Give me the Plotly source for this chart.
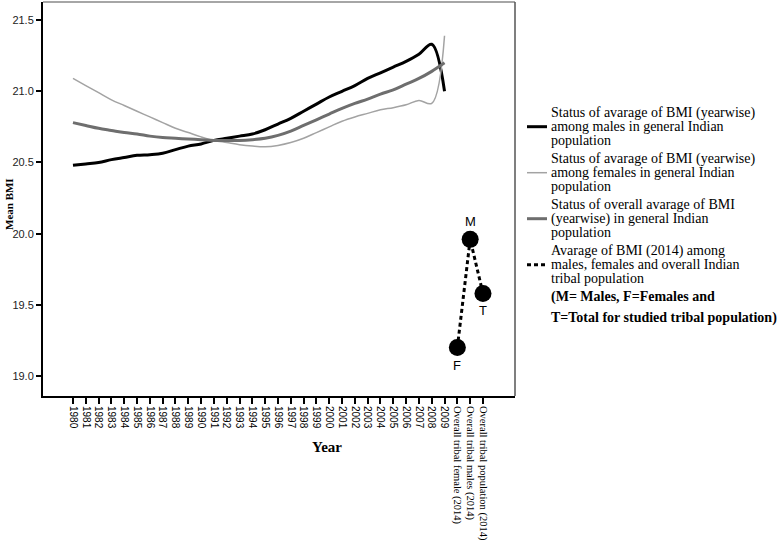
import plotly.graph_objects as go

years = [str(y) for y in range(1980, 2010)]
tribal_cats = ["Overall tribal female (2014)", "Overall tribal males (2014)", "Overall tribal population (2014)"]

male_bmi = [20.48, 20.49, 20.50, 20.52, 20.535, 20.55, 20.555, 20.565, 20.59, 20.615,
            20.63, 20.655, 20.67, 20.685, 20.70, 20.73, 20.77, 20.81, 20.86, 20.91,
            20.96, 21.00, 21.04, 21.09, 21.13, 21.17, 21.21, 21.26, 21.33, 21.00]
female_bmi = [21.09, 21.04, 20.99, 20.94, 20.90, 20.86, 20.82, 20.78, 20.74, 20.71,
              20.68, 20.655, 20.64, 20.625, 20.615, 20.61, 20.62, 20.64, 20.67, 20.71,
              20.75, 20.79, 20.82, 20.845, 20.87, 20.885, 20.905, 20.935, 20.915, 21.39]
overall_bmi = [20.78, 20.76, 20.74, 20.725, 20.71, 20.70, 20.685, 20.675, 20.67, 20.665,
               20.66, 20.655, 20.655, 20.655, 20.66, 20.67, 20.69, 20.72, 20.76, 20.80,
               20.84, 20.88, 20.915, 20.945, 20.98, 21.01, 21.05, 21.09, 21.14, 21.20]
tribal_labels = ["F", "M", "T"]
tribal_bmi = [19.20, 19.96, 19.58]

legend_texts = [
    ["Status of avarage of BMI (yearwise)", "among males in general Indian", "population"],
    ["Status of avarage of BMI (yearwise)", "among females in general Indian", "population"],
    ["Status of overall avarage of BMI", "(yearwise) in general Indian", "population"],
    ["Avarage of BMI (2014) among", "males, females and overall Indian", "tribal population"],
]
note_lines = ["(M= Males, F=Females and", "T=Total for studied tribal population)"]

all_cats = years + tribal_cats
tick_text = years + ['<span style="font-family:Liberation Serif;font-size:10.5px">' + c + '</span>'
                     for c in tribal_cats]
yr_idx = list(range(len(years)))
tr_idx = [len(years) + i for i in range(len(tribal_cats))]

styles = [
    dict(color="black", width=3),
    dict(color="#a3a3a3", width=1.5),
    dict(color="#6e6e6e", width=3),
    dict(color="black", width=3, dash="4px,3px"),
]

fig = go.Figure()
for series, st, txt in zip([male_bmi, female_bmi, overall_bmi], styles[:3], legend_texts[:3]):
    fig.add_trace(go.Scatter(x=yr_idx, y=series, mode="lines",
                             line=dict(shape="spline", **st), name=" ".join(txt)))
fig.add_trace(go.Scatter(
    x=tr_idx, y=tribal_bmi, mode="lines+markers", line=styles[3],
    marker=dict(color="black", size=17), name=" ".join(legend_texts[3])))

label_pos = {"F": (-1, "top"), "M": (1, "bottom"), "T": (-1, "top")}
for xi, yv, lab in zip(tr_idx, tribal_bmi, tribal_labels):
    sgn, anc = label_pos[lab]
    fig.add_annotation(x=xi, y=yv, text=lab, showarrow=False, yanchor=anc, yshift=sgn * 8,
                       font=dict(family="Arial", size=13, color="black"))

# ---- manual legend (pixel layout converted to paper coords) ----
W, H = 781, 543
L, R, T, B = 43, 266, 2, 147
pw, ph = W - L - R, H - T - B

def px(xp):
    return (xp - L) / pw

def py(yp):
    return (H - B - yp) / ph

item_tops = [113, 159, 205, 251]
line_gap = 13.7
for top, lines, st in zip(item_tops, legend_texts, styles):
    for k, ln in enumerate(lines):
        fig.add_annotation(xref="paper", yref="paper", x=px(549), y=py(top + k * line_gap),
                           xanchor="left", yanchor="middle", showarrow=False, text=ln,
                           font=dict(family="Liberation Serif", size=14, color="black"))
    ym = py(top + line_gap)
    fig.add_shape(type="line", xref="paper", yref="paper", x0=px(527), x1=px(547), y0=ym, y1=ym,
                  line=st)

for k, ln in enumerate(note_lines):
    fig.add_annotation(xref="paper", yref="paper", x=px(549), y=py(297 + k * 21),
                       xanchor="left", yanchor="middle", showarrow=False, text="<b>" + ln + "</b>",
                       font=dict(family="Liberation Serif", size=14, color="black"))

# axis titles
fig.add_annotation(xref="paper", yref="paper", x=px(327), y=py(447), showarrow=False,
                   xanchor="center", yanchor="middle",
                   text="<b>Year</b>", font=dict(family="Liberation Serif", size=15, color="black"))
fig.add_annotation(xref="paper", yref="paper", x=px(9), y=py(204), showarrow=False, textangle=-90,
                   xanchor="center", yanchor="middle",
                   text="<b>Mean BMI</b>", font=dict(family="Liberation Serif", size=11, color="black"))

# frame top/right
fig.add_shape(type="line", xref="paper", yref="paper", x0=0, x1=1, y0=1, y1=1,
              line=dict(color="#888888", width=1.5))
fig.add_shape(type="line", xref="paper", yref="paper", x0=1, x1=1, y0=0, y1=1,
              line=dict(color="#555555", width=1.5))

fig.update_layout(
    width=W, height=H,
    margin=dict(l=L, r=R, t=T, b=B),
    plot_bgcolor="white", paper_bgcolor="white",
    showlegend=False,
    xaxis=dict(range=[-2.34, 34.5], tickmode="array", tickvals=list(range(len(all_cats))),
               ticktext=tick_text, tickangle=90, showgrid=False, zeroline=False, automargin=False,
               showline=True, linecolor="black", linewidth=2, ticks="outside", ticklen=6,
               tickcolor="black", tickwidth=1.5,
               tickfont=dict(family="Arial", size=10, color="black")),
    yaxis=dict(range=[18.86, 21.627], tickvals=[19.0, 19.5, 20.0, 20.5, 21.0, 21.5],
               ticktext=["19.0", "19.5", "20.0", "20.5", "21.0", "21.5"], automargin=False,
               showgrid=False, zeroline=False, showline=True, linecolor="black", linewidth=2,
               ticks="outside", ticklen=5, tickcolor="black", tickwidth=1.5,
               tickfont=dict(family="Arial", size=11, color="#222222")),
)

fig.write_html("out.html", config={"displayModeBar": False},
               post_script="document.body.style.margin='0';document.body.style.overflow='hidden';")
